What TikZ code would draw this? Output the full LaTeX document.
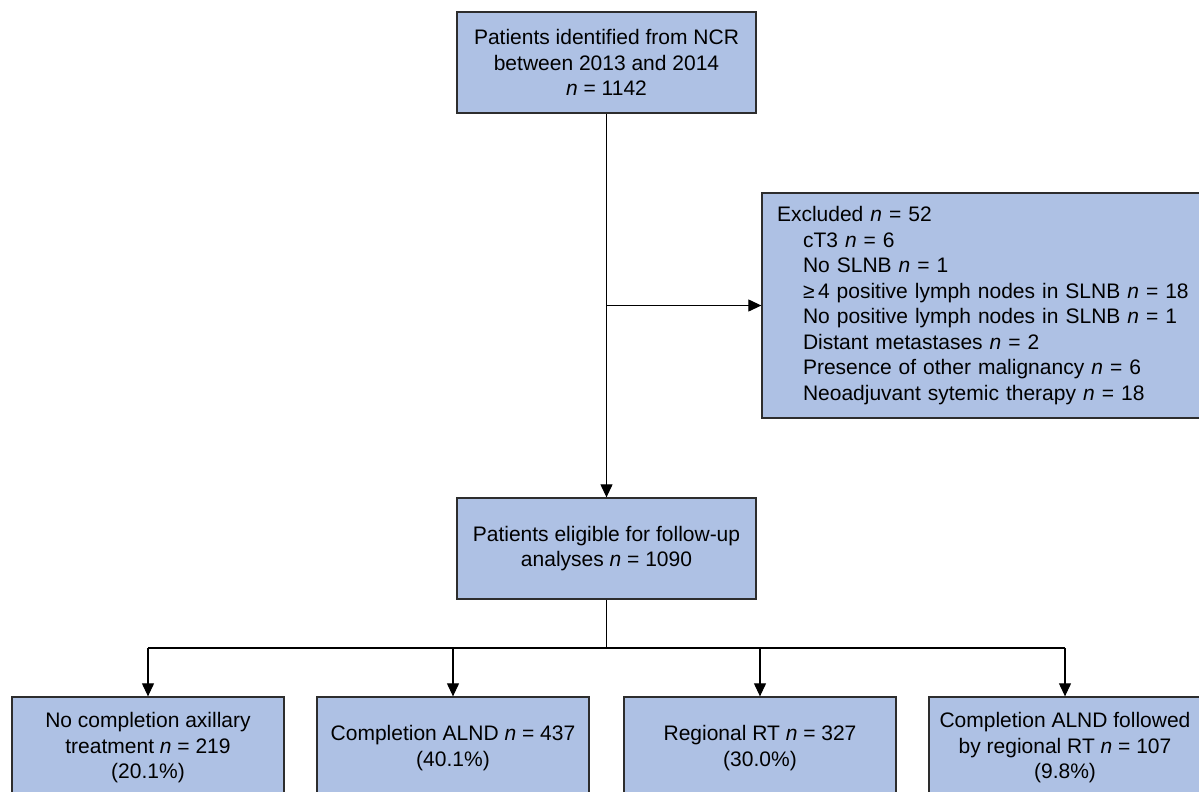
\documentclass[tikz,border=0pt]{standalone}
\usepackage{fontspec}
\setmainfont{Liberation Sans}
\usetikzlibrary{arrows.meta}
\definecolor{boxfill}{RGB}{174,193,228}
\definecolor{boxline}{RGB}{45,45,45}
\begin{document}
\begin{tikzpicture}[x=1pt,y=-1pt,
  box/.style={draw=boxline,fill=boxfill,line width=1.3pt,align=center,inner sep=0pt,
    font=\fontsize{21}{25.5}\selectfont},
  arr/.style={-{Triangle[length=13pt,width=12pt]},line width=1.1pt},
  conn/.style={line width=1.1pt}]
\clip (0,0) rectangle (1199,792);
\fill[white] (0,0) rectangle (1199,792);

\node[box,minimum width=299,minimum height=101] (top) at (606.5,62.5)
  {Patients identified from NCR\\between 2013 and 2014\\\textit{n} = 1142};

\node[box,align=left,text width=430,inner xsep=15pt,minimum height=225] (excl) at (992,305.5)
  {Excluded \textit{n} = 52\\
   \hspace*{26pt}cT3 \textit{n} = 6\\
   \hspace*{26pt}No SLNB \textit{n} = 1\\
   \hspace*{26pt}≥\,4 positive lymph nodes in SLNB \textit{n} = 18\\
   \hspace*{26pt}No positive lymph nodes in SLNB \textit{n} = 1\\
   \hspace*{26pt}Distant metastases \textit{n} = 2\\
   \hspace*{26pt}Presence of other malignancy \textit{n} = 6\\
   \hspace*{26pt}Neoadjuvant sytemic therapy \textit{n} = 18};

\node[box,minimum width=299,minimum height=101] (elig) at (606.5,548.5)
  {Patients eligible for follow-up\\analyses \textit{n} = 1090};

\node[box,minimum width=272,minimum height=102] (b1) at (148,748)
  {No completion axillary\\treatment \textit{n} = 219\\(20.1\%)};
\node[box,minimum width=272,minimum height=102] (b2) at (453,748)
  {Completion ALND \textit{n} = 437\\(40.1\%)};
\node[box,minimum width=272,minimum height=102] (b3) at (760,748)
  {Regional RT \textit{n} = 327\\(30.0\%)};
\node[box,minimum width=272,minimum height=102] (b4) at (1065,748)
  {Completion ALND followed\\by regional RT \textit{n} = 107\\(9.8\%)};

\coordinate (br) at (top.south |- excl.west);
\draw[arr] (top.south) -- (elig.north);
\draw[arr] (br) -- (excl.west);

\coordinate (hl) at (606.5,648);
\draw[conn] (elig.south) -- (hl);
\draw[conn] (b1.north |- hl) -- (b4.north |- hl);
\draw[arr] (b1.north |- hl) -- (b1.north);
\draw[arr] (b2.north |- hl) -- (b2.north);
\draw[arr] (b3.north |- hl) -- (b3.north);
\draw[arr] (b4.north |- hl) -- (b4.north);
\end{tikzpicture}
\end{document}
